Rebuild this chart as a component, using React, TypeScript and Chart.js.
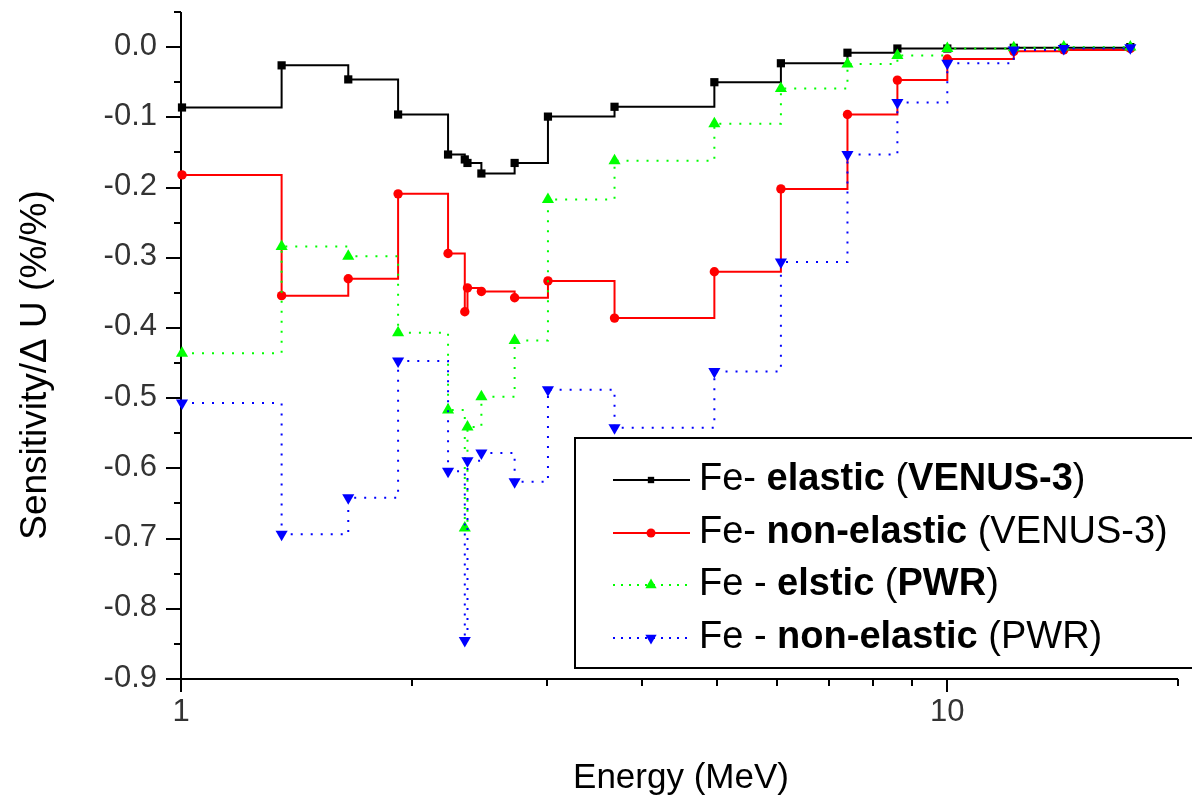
import React, { useEffect, useRef } from 'react';
import { Chart, registerables } from 'chart.js';

Chart.register(...registerables);

// Energy group boundaries (MeV)
const energyMeV = [1.003, 1.353, 1.653, 1.92, 2.231, 2.346, 2.365, 2.466, 2.725, 3.012, 3.679, 4.966, 6.065, 7.408, 8.607, 10.0, 12.21, 14.19, 17.33];

// Sensitivity values (%/%)
const feElasticVenus = [-0.086, -0.026, -0.046, -0.096, -0.153, -0.16, -0.165, -0.18, -0.165, -0.099, -0.085, -0.05, -0.023, -0.008, -0.002, -0.002, -0.001, -0.001, 0.0];
const feNonElasticVenus = [-0.182, -0.354, -0.33, -0.209, -0.294, -0.377, -0.343, -0.348, -0.357, -0.333, -0.386, -0.32, -0.202, -0.096, -0.047, -0.017, -0.006, -0.004, -0.002];
const feElasticPwr = [-0.436, -0.284, -0.298, -0.407, -0.517, -0.685, -0.541, -0.498, -0.418, -0.217, -0.162, -0.109, -0.059, -0.024, -0.012, -0.002, -0.001, 0.0, 0.0];
const feNonElasticPwr = [-0.507, -0.694, -0.642, -0.447, -0.604, -0.845, -0.589, -0.578, -0.619, -0.488, -0.542, -0.462, -0.306, -0.153, -0.079, -0.023, -0.004, -0.002, -0.001];

const seriesLabels = ['Fe- elastic (VENUS-3)', 'Fe- non-elastic (VENUS-3)', 'Fe - elstic (PWR)', 'Fe - non-elastic (PWR)'];

// legend text pieces: [text, bold]
const legendRuns: [string, boolean][][] = [
  [['Fe- ', false], ['elastic ', true], ['(', false], ['VENUS-3', true], [')', false]],
  [['Fe- ', false], ['non-elastic ', true], ['(VENUS-3)', false]],
  [['Fe - ', false], ['elstic ', true], ['(', false], ['PWR', true], [')', false]],
  [['Fe - ', false], ['non-elastic ', true], ['(PWR)', false]],
];

const yMajorTicks = [0, -0.1, -0.2, -0.3, -0.4, -0.5, -0.6, -0.7, -0.8, -0.9];
const yTickLabels = ['0.0', '-0.1', '-0.2', '-0.3', '-0.4', '-0.5', '-0.6', '-0.7', '-0.8', '-0.9'];
const yMinorTicks = [0.05, -0.05, -0.15, -0.25, -0.35, -0.45, -0.55, -0.65, -0.75, -0.85];
const xMajorTicks = [1, 10];
const xTickLabels = ['1', '10'];
const xMinorTicks = [2, 3, 4, 5, 6, 7, 8, 9, 20];

const xTitle = 'Energy (MeV)';
const yTitle = 'Sensitivity/\u0394 U (%/%)';

const FONT = '"Liberation Sans", Arial, sans-serif';

type Style = { color: string; dash: number[]; marker: string; rot: number; radius: number; legendRadius: number };
const styles: Style[] = [
  { color: '#000000', dash: [], marker: 'rect', rot: 0, radius: 5.8, legendRadius: 4.5 },
  { color: '#ff0000', dash: [], marker: 'circle', rot: 0, radius: 4.7, legendRadius: 4.5 },
  { color: '#00ff00', dash: [2, 8], marker: 'triangle', rot: 0, radius: 7, legendRadius: 6.5 },
  { color: '#0000ff', dash: [2, 8], marker: 'triangle', rot: 180, radius: 7, legendRadius: 6.5 },
];

function drawMarker(ctx: CanvasRenderingContext2D, s: Style, x: number, y: number) {
  ctx.fillStyle = s.color;
  ctx.beginPath();
  const r = s.legendRadius;
  if (s.marker === 'rect') {
    const h = r * Math.SQRT1_2;
    ctx.rect(x - h, y - h, 2 * h, 2 * h);
  } else if (s.marker === 'circle') {
    ctx.arc(x, y, r, 0, Math.PI * 2);
  } else {
    const sign = s.rot === 180 ? -1 : 1;
    ctx.moveTo(x, y - sign * r);
    ctx.lineTo(x + r * Math.sin((2 * Math.PI) / 3), y + sign * r * 0.5);
    ctx.lineTo(x - r * Math.sin((2 * Math.PI) / 3), y + sign * r * 0.5);
    ctx.closePath();
  }
  ctx.fill();
}

const axesPlugin = {
  id: 'originAxes',
  beforeDatasetsDraw(chart: any) {
    const { ctx, chartArea: a, scales } = chart;
    const xs = scales.x;
    const ys = scales.y;
    ctx.save();
    ctx.strokeStyle = '#000';
    ctx.lineWidth = 2;
    ctx.beginPath();
    ctx.moveTo(a.left, a.top);
    ctx.lineTo(a.left, a.bottom);
    ctx.lineTo(a.right, a.bottom);
    ctx.stroke();

    ctx.beginPath();
    yMajorTicks.forEach((v) => {
      const py = Math.round(ys.getPixelForValue(v));
      ctx.moveTo(a.left - 15, py);
      ctx.lineTo(a.left, py);
    });
    yMinorTicks.forEach((v) => {
      const py = Math.round(ys.getPixelForValue(v));
      ctx.moveTo(a.left - 7, py);
      ctx.lineTo(a.left, py);
    });
    xMajorTicks.forEach((v) => {
      const px = Math.round(xs.getPixelForValue(v));
      ctx.moveTo(px, a.bottom);
      ctx.lineTo(px, a.bottom + 13);
    });
    xMinorTicks.forEach((v) => {
      const px = Math.round(xs.getPixelForValue(v));
      ctx.moveTo(px, a.bottom);
      ctx.lineTo(px, a.bottom + 7);
    });
    ctx.stroke();

    ctx.fillStyle = '#333';
    ctx.font = `31px ${FONT}`;
    ctx.textAlign = 'right';
    ctx.textBaseline = 'middle';
    yMajorTicks.forEach((v, i) => {
      ctx.fillText(yTickLabels[i], a.left - 24, ys.getPixelForValue(v) - 1);
    });
    ctx.textAlign = 'center';
    xMajorTicks.forEach((v, i) => {
      ctx.fillText(xTickLabels[i], xs.getPixelForValue(v), a.bottom + 33);
    });

    ctx.fillStyle = '#000';
    ctx.font = `35px ${FONT}`;
    ctx.fillText(xTitle, 681, 778);
    ctx.save();
    ctx.translate(36, 365);
    ctx.rotate(-Math.PI / 2);
    ctx.font = `37px ${FONT}`;
    ctx.fillText(yTitle, 0, 0);
    ctx.restore();
    ctx.restore();
  },
  afterDatasetsDraw(chart: any) {
    const { ctx } = chart;
    ctx.save();
    const lx = 575, ly = 438, lw = 700, lh = 230;
    ctx.fillStyle = '#fff';
    ctx.fillRect(lx, ly, lw, lh);
    ctx.strokeStyle = '#000';
    ctx.lineWidth = 2;
    ctx.strokeRect(lx, ly, lw, lh);
    const rowsY = [480, 533, 585, 638];
    styles.forEach((s, i) => {
      const y = rowsY[i];
      ctx.strokeStyle = s.color;
      ctx.lineWidth = 2;
      ctx.setLineDash(s.dash.length ? [2, 6] : []);
      ctx.beginPath();
      ctx.moveTo(613, y);
      ctx.lineTo(690, y);
      ctx.stroke();
      ctx.setLineDash([]);
      drawMarker(ctx, s, 651, y);
      let x = 699;
      ctx.textAlign = 'left';
      ctx.textBaseline = 'middle';
      ctx.fillStyle = '#000';
      legendRuns[i].forEach(([t, b]) => {
        ctx.font = `${b ? 'bold ' : ''}38px ${FONT}`;
        ctx.fillText(t, x, y);
        x += ctx.measureText(t).width;
      });
    });
    ctx.restore();
  },
};

export default function App() {
  const ref = useRef<HTMLCanvasElement | null>(null);
  useEffect(() => {
    if (!ref.current) return;
    const series = [feElasticVenus, feNonElasticVenus, feElasticPwr, feNonElasticPwr];
    const chart = new Chart(ref.current, {
      type: 'line',
      data: {
        datasets: series.map((vals, i) => ({
          label: seriesLabels[i],
          data: energyMeV.map((x, j) => ({ x, y: vals[j] })),
          borderColor: styles[i].color,
          backgroundColor: styles[i].color,
          borderWidth: 2,
          borderDash: styles[i].dash,
          stepped: 'before' as const,
          fill: false,
          pointStyle: styles[i].marker as any,
          pointRotation: styles[i].rot,
          pointRadius: styles[i].radius,
          pointBorderWidth: 0,
          pointBackgroundColor: styles[i].color,
          clip: false as any,
          order: 3 - i,
        })),
      },
      options: {
        animation: false,
        responsive: false,
        devicePixelRatio: 1,
        layout: { padding: { left: 181, right: 14, top: 12, bottom: 121 } },
        plugins: { legend: { display: false }, tooltip: { enabled: false } },
        scales: {
          x: { type: 'logarithmic', min: 1, max: 20, display: false },
          y: { type: 'linear', min: -0.9, max: 0.05, display: false },
        },
      },
      plugins: [axesPlugin],
    });
    return () => chart.destroy();
  }, []);
  return (
    <div style={{ position: 'absolute', left: 0, top: 0, width: 1192, height: 800, background: '#fff' }}>
      <canvas ref={ref} width={1192} height={800} />
    </div>
  );
}
